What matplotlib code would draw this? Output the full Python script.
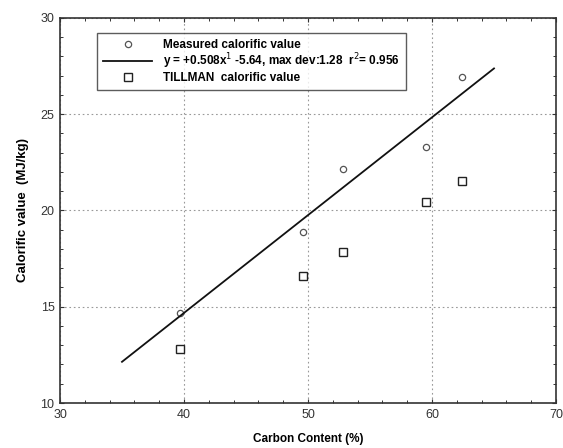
import matplotlib
matplotlib.use("Agg")
import matplotlib.pyplot as plt
import numpy as np
from matplotlib.ticker import MultipleLocator

plt.rcParams['font.family'] = ['Liberation Sans', 'DejaVu Sans']

carbon = [39.7, 49.6, 52.8, 59.5, 62.4]
measured = [14.7, 18.9, 22.15, 23.3, 26.95]
tillman = [12.8, 16.6, 17.85, 20.45, 21.55]
fit_slope = 0.508
fit_intercept = -5.64
fit_range = [35, 65]

fig = plt.figure(figsize=(5.63, 4.48), dpi=100)
ax = fig.add_axes([60/563, 1-403/448, (556-60)/563, (403-18)/448])

ax.plot(carbon, measured, linestyle='none', marker='o', markersize=4.5,
        markerfacecolor='white', markeredgecolor='#555555', markeredgewidth=0.9,
        label='Measured calorific value', zorder=3)
xf = np.array(fit_range, dtype=float)
ax.plot(xf, fit_slope * xf + fit_intercept, color='#111111', lw=1.3,
        label=r'y = +0.508x$^{1}$ -5.64, max dev:1.28  r$^{2}$= 0.956', zorder=3)
ax.plot(carbon, tillman, linestyle='none', marker='s', markersize=5.5,
        markerfacecolor='white', markeredgecolor='#222222', markeredgewidth=1.0,
        label='TILLMAN  calorific value', zorder=3)

ax.set_xlim(30, 70)
ax.set_ylim(10, 30)
ax.xaxis.set_major_locator(MultipleLocator(10))
ax.xaxis.set_minor_locator(MultipleLocator(2))
ax.yaxis.set_major_locator(MultipleLocator(5))
ax.yaxis.set_minor_locator(MultipleLocator(1))
ax.tick_params(which='both', direction='in', top=True, right=True,
               labelsize=9, labelcolor='#333333', color='#333333')
ax.tick_params(which='major', length=3, width=0.8, pad=4)
ax.tick_params(which='minor', length=2, width=0.7)
ax.grid(True, which='major', linestyle=(0, (1.5, 2.5)), color='#999999', lw=0.8)
for s in ax.spines.values():
    s.set_color('#333333')
    s.set_linewidth(1.2)

ax.set_xlabel('Carbon Content (%)', fontsize=8.5, fontweight='bold', labelpad=9)
ax.set_ylabel('Calorific value  (MJ/kg)', fontsize=9.5, fontweight='bold', labelpad=8)

leg = ax.legend(loc='upper left', bbox_to_anchor=((97-60)/496, (403-33)/385),
                prop={'weight': 'bold', 'size': 8.5},
                frameon=True, fancybox=False, edgecolor='#333333',
                handlelength=4.2, handletextpad=0.9, borderpad=0.5,
                labelspacing=0.05, borderaxespad=0)
leg.get_frame().set_linewidth(1.0)

fig.savefig('out.png', dpi=100)
